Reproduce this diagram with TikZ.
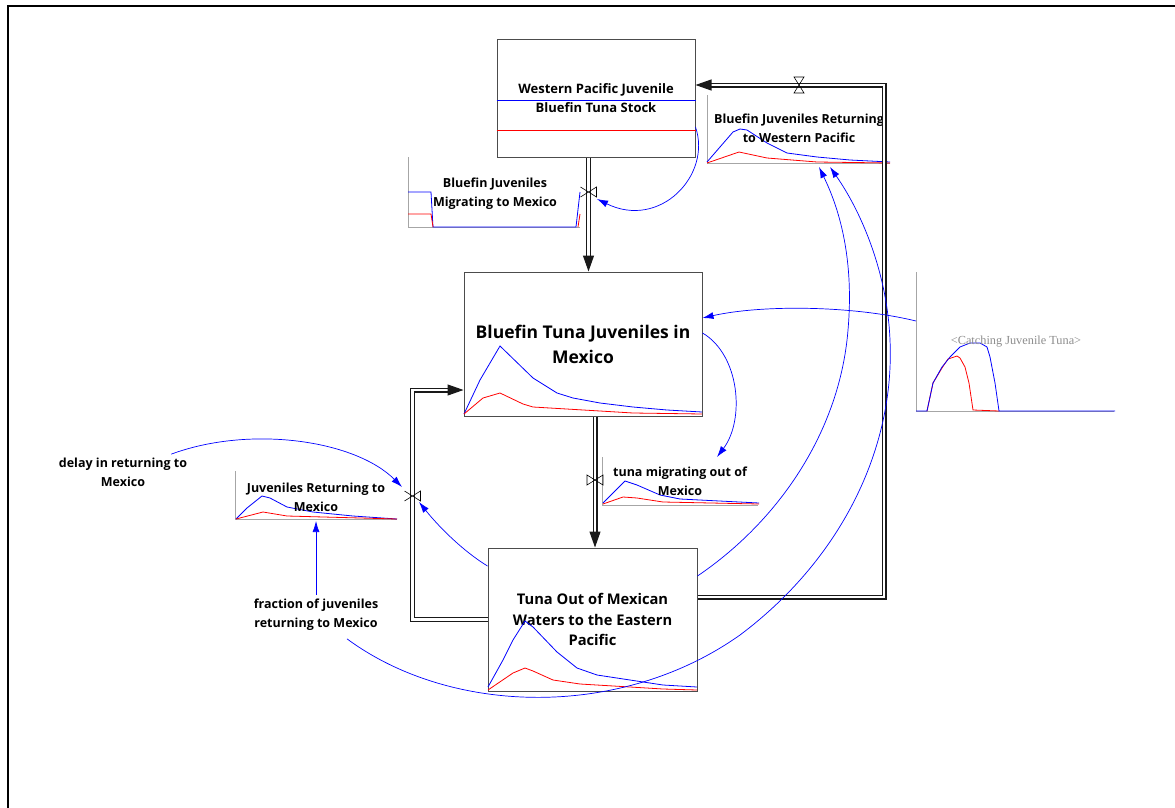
\documentclass[tikz,border=0pt]{standalone}
\usepackage{fontspec}
\setmainfont{Open Sans}
\newfontfamily\shadowfont{Liberation Serif}
\usetikzlibrary{arrows.meta}

\newcommand{\lblfont}{\bfseries\fontsize{12.5}{19}\selectfont}

\tikzset{
  stock/.style={draw=black!70, line width=1pt, fill=white, align=center, inner sep=0pt},
  gframe/.style={inner sep=0pt, outer sep=0pt},
  lbl/.style={font=\lblfont, align=center},
  axis/.style={draw=black!35, line width=1pt},
  pipe/.style={draw=black!90, double=white, double distance=2.8pt, line width=1.1pt},
  pipetip/.style={-{Triangle[length=16pt,width=11pt]}},
  link/.style={draw=blue, line width=0.7pt, -{Latex[length=11pt,width=7pt]}},
  bluecurve/.style={draw=blue, line width=0.8pt},
  redcurve/.style={draw=red, line width=0.8pt},
  valveh/.pic={\draw[line width=0.6pt] (-8,-5) -- (8,5) -- (8,-5) -- (-8,5);},
  valvehfull/.pic={\draw[line width=0.6pt] (-8,-5) -- (8,5) -- (8,-5) -- (-8,5) -- cycle;},
  valvev/.pic={\draw[line width=0.6pt] (-5,-8) -- (5,-8) -- (-5,8) -- (5,8) -- cycle;}
}

\begin{document}
\begin{tikzpicture}[x=1pt,y=-1pt]
  \useasboundingbox (0,0) rectangle (1175,808);
  \clip (0,0) rectangle (1175,808);
  % page frame
  \draw[line width=2pt] (8,830) -- (8,6) -- (1200,6);

  % stocks
  \node[stock, minimum width=198pt, minimum height=117pt, font=\bfseries\fontsize{13}{19}\selectfont]
    (wp) at (596,98.5) {Western Pacific Juvenile\\Bluefin Tuna Stock};
  \node[stock, minimum width=238pt, minimum height=144pt, font=\bfseries\fontsize{17.5}{25}\selectfont]
    (mex) at (583,344) {Bluefin Tuna Juveniles in\\Mexico};
  \node[stock, minimum width=209pt, minimum height=143pt, font=\bfseries\fontsize{14.7}{20.5}\selectfont]
    (tuna3) at (592.5,619.5) {Tuna Out of Mexican\\Waters to the Eastern\\Pacific};

  % graphs in the stocks
  \draw[bluecurve] ([yshift=-1.5pt]wp.west) -- ([yshift=-1.5pt]wp.east);
  \draw[redcurve] ([yshift=-31.5pt]wp.west) -- ([yshift=-31.5pt]wp.east);
  \draw[bluecurve] plot coordinates {(464,414) (480,380) (500,346) (533,378) (557,393) (573,398)
    (600,403) (633,407) (667,410) (702,412)};
  \draw[redcurve] plot coordinates {(464,414) (483,398) (500,393) (523,404) (533,407) (600,411)
    (633,413) (702,414)};
  \draw[bluecurve] plot coordinates {(488,687) (503,660) (513,640) (525,621) (533,627) (557,652)
    (577,668) (597,675) (630,680) (663,685) (697,687)};
  \draw[redcurve] plot coordinates {(488,690) (513,673) (525,668) (533,671) (553,680) (580,684)
    (630,687) (663,689) (697,690)};

  % graph frames
  \node[gframe, minimum width=172pt, minimum height=70pt] (gMig) at (494,192) {};
  \node[gframe, minimum width=183pt, minimum height=68pt] (gRetWP) at (798.5,129) {};
  \node[gframe, minimum width=161pt, minimum height=48pt] (gRetMx) at (316,495) {};
  \node[gframe, minimum width=156pt, minimum height=48pt] (gOut) at (680,481) {};
  \node[gframe, minimum width=198pt, minimum height=139pt] (gCatch) at (1015,341.5) {};
  \foreach \g in {gMig,gRetWP,gRetMx,gOut,gCatch}
    \draw[axis] (\g.north west) -- (\g.south west) -- (\g.south east);

  \draw[bluecurve] plot coordinates {(408,192) (431,192) (433,227) (576,227) (580,192)};
  \draw[redcurve] plot coordinates {(408,214) (431,214) (433,227)};
  \draw[redcurve] (578,227) -- (580,214);
  \draw[bluecurve] plot coordinates {(707,162) (720,147) (733,132) (740,129) (747,130) (767,143)
    (787,153) (817,157) (850,160) (890,162)};
  \draw[redcurve] plot coordinates {(707,163) (739,152) (767,158) (817,162) (890,163)};
  \draw[bluecurve] plot coordinates {(236,519) (247,508) (262,496) (270,498) (287,507) (313,512)
    (353,516) (397,519)};
  \draw[redcurve] plot coordinates {(236,519) (263,512) (287,516) (397,519)};
  \draw[bluecurve] plot coordinates {(603,503) (613,493) (625,481) (637,485) (660,495) (680,499)
    (759,503)};
  \draw[redcurve] plot coordinates {(603,504) (623,497) (637,498) (663,502) (759,504)};
  \draw[redcurve] plot coordinates {(927,411) (933,383) (942,368) (948,359) (957,356) (960,358)
    (965,367) (969,383) (973,410) (999,411)};
  \draw[bluecurve] plot coordinates {(916,411) (927,411) (933,383) (942,367) (950,357) (960,347)
    (970,343) (980,343) (987,347) (990,357) (995,383) (999,411) (1115,411)};

  % graph labels
  \node[lbl] (lMig) at (495,194) {Bluefin Juveniles\\Migrating to Mexico};
  \node[lbl] (lRetWP) at (799,128) {Bluefin Juveniles Returning\\to Western Pacific};
  \node[lbl] (lRetMx) at (316,497) {Juveniles Returning to\\Mexico};
  \node[lbl] (lOut) at (680,481) {tuna migrating out of\\Mexico};
  \node[font=\shadowfont\fontsize{12.3}{14}\selectfont, text=black!45] (lCatch) at (1016,342)
    {<Catching Juvenile Tuna>};

  % constants
  \node[lbl] (delay) at (123,472) {delay in returning to\\Mexico};
  \node[lbl] (frac) at (316,614.5) {fraction of juveniles\\returning to Mexico};

  % valves and link ends
  \coordinate (vMig) at (588.5,192);
  \coordinate (vOut) at (595,480);
  \coordinate (vRM) at (412.5,496);
  \coordinate (vRW) at (799,85);
  \coordinate (cSE) at (884,597);
  \coordinate (cNE) at (884,85);
  \coordinate (tMig) at (597,199);
  \coordinate (tOut) at (717,457);
  \coordinate (tRM) at (402,487);
  \coordinate (tRM2) at (419,502);
  \coordinate (tRetMx) at (316,521);
  \coordinate (tRWa) at (819,167);
  \coordinate (tRWb) at (830,167);

  % flows
  \draw[pipe, pipetip] (wp.south -| vMig) -- (mex.north -| vMig);
  \draw[pipe, pipetip] (mex.south -| vOut) -- (tuna3.north -| vOut);
  \draw[pipe, pipetip] (tuna3.west) -| (vRM) |- ([yshift=-46pt]mex.west);
  \draw[pipe, pipetip] ([yshift=22.5pt]tuna3.east) -- (cSE) -- (cNE) -- ([yshift=13.5pt]wp.east);
  \pic at (vMig) {valveh};
  \pic at (vOut) {valvehfull};
  \pic at (vRM) {valveh};
  \pic at (vRW) {valvev};

  % links
  \draw[link] ([yshift=-28.5pt]wp.east) .. controls (712,175) and (660,230) .. (tMig);
  \draw[link] ([yshift=20.5pt]gCatch.west) .. controls (850,305) and (760,305) .. ([yshift=26pt]mex.east);
  \draw[link] ([yshift=11pt]mex.east) .. controls (740,355) and (745,420) .. (tOut);
  \draw[link] (delay) .. controls (250,425) and (355,440) .. (tRM);
  \draw[link] ([yshift=53.5pt]tuna3.west) .. controls (463,551) and (439,527) .. (tRM2);
  \draw[link] (frac) -- (tRetMx);
  \draw[link] ([yshift=43.5pt]tuna3.east) .. controls (780,520) and (840,430) .. (848,330)
    .. controls (855,250) and (835,200) .. (tRWa);
  \draw[link] ([shift={(31,5)}]frac.south) .. controls (450,715) and (620,720) .. (740,635)
    .. controls (840,560) and (895,450) .. (890,340) .. controls (887,270) and (860,210) .. (tRWb);
\end{tikzpicture}
\end{document}
